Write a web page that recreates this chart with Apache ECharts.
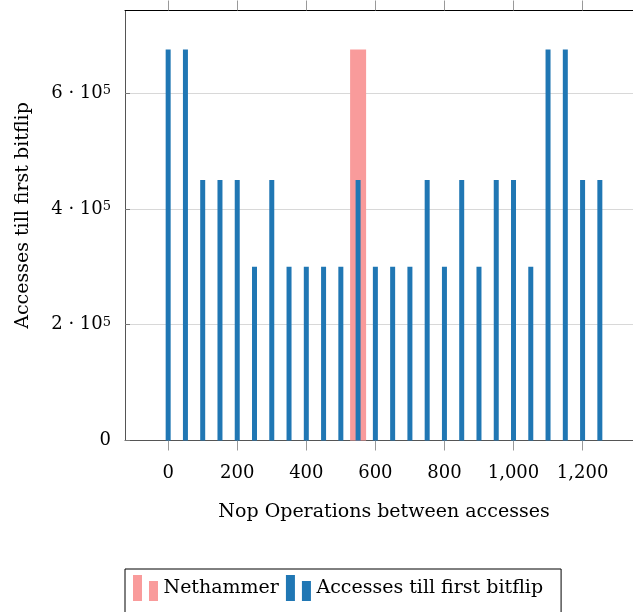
<!DOCTYPE html>
<html><head><meta charset="utf-8">
<script src="https://cdn.jsdelivr.net/npm/echarts@6/dist/echarts.min.js"></script>
<style>html,body{margin:0;padding:0;background:#fff}#c{width:633px;height:612px}</style>
</head><body><div id="c"></div>
<script>
const nopOps = [0,50,100,150,200,250,300,350,400,450,500,550,600,650,700,750,800,850,900,950,1000,1050,1100,1150,1200,1250];
const accesses = [675000,675000,450000,450000,450000,300000,450000,300000,300000,300000,300000,450000,300000,300000,300000,450000,300000,450000,300000,450000,450000,300000,675000,675000,450000,450000];
const nethammerX = [550];
const nethammerY = [675000];
const xTicks = [0,200,400,600,800,1000,1200];
const yTicks = [0,200000,400000,600000];

const FONT = 'DejaVu Serif';
const X_MIN = -125, X_MAX = 1346;
const chart = echarts.init(document.getElementById('c'), null, {renderer:'canvas'});
const fmtX = v => v >= 1000 ? Math.floor(v/1000) + ',' + String(v%1000).padStart(3,'0') : String(v);
const legendIcon = 'path://M0,0h9v26h-9z M16,6h9v20h-9z';
chart.setOption({
  animation:false,
  backgroundColor:'#fff',
  textStyle:{fontFamily:FONT},
  grid:{left:125, right:0, top:10.5, height:430, containLabel:false},
  legend:{
    left:125, top:569, orient:'horizontal',
    padding:[6,18,20,8], itemGap:7, itemWidth:26, itemHeight:26,
    borderColor:'#000', borderWidth:1, borderRadius:0,
    textStyle:{fontFamily:FONT, fontSize:19, color:'#000'},
    data:[{name:'Nethammer', icon:legendIcon},{name:'Accesses till first bitflip', icon:legendIcon}]
  },
  xAxis:[
    {type:'value', position:'bottom', min:X_MIN, max:X_MAX,
     name:'Nop Operations between accesses', nameLocation:'middle', nameGap:62,
     nameTextStyle:{fontFamily:FONT, fontSize:19, color:'#000', padding:[0,0,0,10]},
     axisLine:{show:true, onZero:false, lineStyle:{color:'#555', width:1}},
     axisTick:{show:true, inside:false, length:10, customValues:xTicks, lineStyle:{color:'#999'}},
     axisLabel:{show:true, customValues:xTicks, formatter:fmtX, margin:24, fontFamily:FONT, fontSize:18, color:'#000'},
     splitLine:{show:false}},
    {type:'value', position:'top', min:X_MIN, max:X_MAX,
     axisLine:{show:true, onZero:false, lineStyle:{color:'#000', width:1}},
     axisTick:{show:true, inside:false, length:10, customValues:xTicks, lineStyle:{color:'#999'}},
     axisLabel:{show:false}, splitLine:{show:false}},
    {type:'value', position:'bottom', min:X_MIN, max:X_MAX, show:false}
  ],
  yAxis:[{
    type:'value', min:0, max:742500,
    name:'Accesses till first bitflip', nameLocation:'middle', nameGap:92, nameRotate:90,
    nameTextStyle:{fontFamily:FONT, fontSize:19, color:'#000', padding:[0,0,0,20]},
    axisLine:{show:true, onZero:false, lineStyle:{color:'#555', width:1}},
    axisTick:{show:true, inside:true, length:5, customValues:yTicks, lineStyle:{color:'#777'}},
    axisLabel:{show:true, customValues:yTicks, margin:14, color:'#000', fontFamily:FONT, fontSize:18,
      formatter: v => v === 0 ? '0' : (v/100000) + ' · 10{s|5}',
      rich:{s:{fontSize:13, fontFamily:FONT, verticalAlign:'top', lineHeight:13, padding:[0,0,9,0], color:'#000'}}},
    splitLine:{show:true, lineStyle:{color:'#d8d8d8', width:1}},
    interval:200000
  }],
  series:[
    {name:'Nethammer', type:'bar', xAxisIndex:2, barWidth:16,
     itemStyle:{color:'#f99b9b'},
     data: nethammerX.map((x,i)=>[x, nethammerY[i]])},
    {name:'Accesses till first bitflip', type:'bar', xAxisIndex:0, barWidth:5,
     itemStyle:{color:'#2077b4'},
     data: nopOps.map((x,i)=>[x, accesses[i]])}
  ]
});
</script></body></html>
